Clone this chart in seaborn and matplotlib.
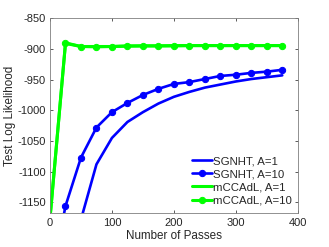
import numpy as np
import pandas as pd
import seaborn as sns
import matplotlib
matplotlib.use("Agg")
import matplotlib.pyplot as plt

# ---- data ----
passes_sg1 = [50, 75, 100, 125, 150, 175, 200, 225, 250, 275, 300, 325, 350, 375]
sgnht_a1 = [-1178, -1088, -1045, -1019, -1003, -989, -978, -970, -963, -958, -953, -949, -946, -943]

passes_sg10 = [0, 25, 50, 75, 100, 125, 150, 175, 200, 225, 250, 275, 300, 325, 350, 375]
sgnht_a10 = [-1288, -1156, -1077, -1028, -1003, -988, -975, -965, -957, -954, -949, -944, -942, -939, -937, -934]

passes_mc = [0, 25, 50, 75, 100, 125, 150, 175, 200, 225, 250, 275, 300, 325, 350, 375]
mccadl_a1 = [-1176, -891, -896, -896, -896, -895, -895, -895, -895, -894.5, -894.5, -894.5, -894.5, -894.5, -894.5, -894.5]
mccadl_a10 = [-1176, -890, -896, -896.5, -896, -895.5, -895, -895, -894.5, -894.5, -894.5, -894.5, -894.5, -894.5, -894.5, -894.5]

labels = ["SGNHT, A=1", "SGNHT, A=10", "mCCAdL, A=1", "mCCAdL, A=10"]
xticks = [0, 100, 200, 300, 400]
yticks = [-1150, -1100, -1050, -1000, -950, -900, -850]

sns.set_style("white")
plt.rcParams['font.family'] = ['Liberation Sans', 'DejaVu Sans']

fig = plt.figure(figsize=(3.29, 2.47), dpi=100)
ax = fig.add_axes([0.152, 0.136, 0.753, 0.790])

blue = "#0000ff"
green = "#00ff00"

series = [
    (passes_sg1, sgnht_a1, labels[0], blue, None, 1.9),
    (passes_sg10, sgnht_a10, labels[1], blue, "o", 1.9),
    (passes_mc, mccadl_a1, labels[2], green, None, 2.2),
    (passes_mc, mccadl_a10, labels[3], green, "o", 2.2),
]
for xs, ys, lab, col, mk, lw in series:
    df = pd.DataFrame({"x": xs, "y": ys})
    sns.lineplot(data=df, x="x", y="y", ax=ax, color=col, marker=mk,
                 markersize=4.5 if mk else None, markeredgecolor=col,
                 linewidth=lw, label=lab, estimator=None, sort=False)

ax.set_xlim(0, 400)
ax.set_ylim(-1168, -850)
ax.set_xticks(xticks)
ax.set_yticks(yticks)
ax.set_xticklabels([str(t) for t in xticks])
ax.set_yticklabels([str(t) for t in yticks])
ax.tick_params(direction="in", length=2.5, width=0.6, colors="#404040",
               labelcolor="#262626", labelsize=8, top=True, right=True,
               bottom=True, left=True, pad=3)
for s in ax.spines.values():
    s.set_color("#7f7f7f")
    s.set_linewidth(0.6)

ax.set_xlabel("Number of Passes", fontsize=8.4, color="#262626", labelpad=2)
ax.set_ylabel("Test Log Likelihood", fontsize=8.4, color="#262626", labelpad=1)

leg = ax.legend(loc="lower right", bbox_to_anchor=(0.975, 0.04), frameon=False,
                fontsize=8.2, handlelength=1.75, handletextpad=0.1,
                labelspacing=0.28, borderaxespad=0, borderpad=0)

fig.savefig("out.png", dpi=100)
